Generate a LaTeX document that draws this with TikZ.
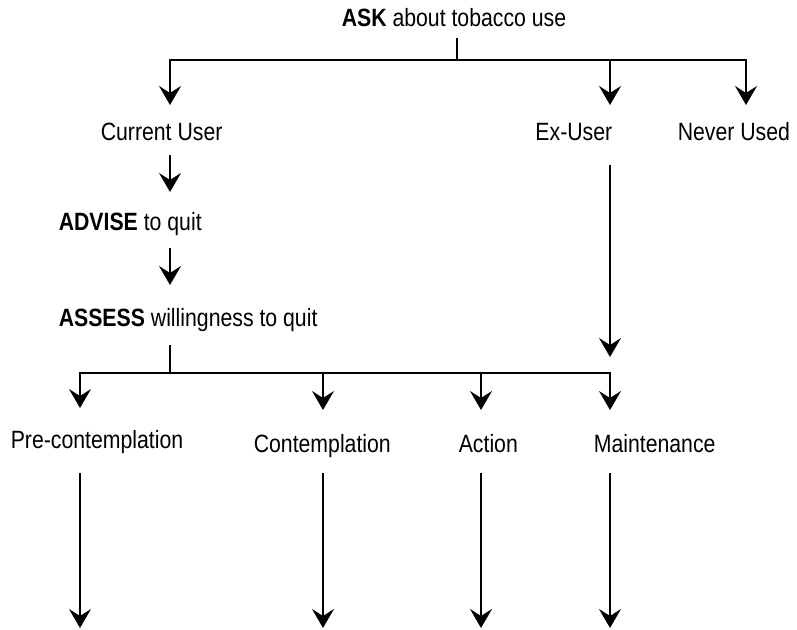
\documentclass[tikz,border=0pt]{standalone}
\usepackage{fontspec}
\setmainfont{Liberation Sans}[FakeStretch=0.85]
\usetikzlibrary{arrows.meta}

\begin{document}
\begin{tikzpicture}[x=1pt,y=-1pt,line width=1.6pt,
    lbl/.style={inner sep=0pt,font=\fontsize{25}{30}\selectfont},
    arr/.style={-{Stealth[length=19pt,width=22pt,inset=7pt]}}]
    \useasboundingbox (0,0) rectangle (797,629);
    % texts
    \node[lbl,anchor=base east] (ask) at (567,27) {\textbf{ASK} about tobacco use};
    \node[lbl,anchor=base west] (cur) at (100,140) {Current User};
    \node[lbl,anchor=base east] (ex) at (613,140) {Ex-User};
    \node[lbl,anchor=base west] (never) at (677,140) {Never Used};
    \node[lbl,anchor=base west] (advise) at (58,230) {\textbf{ADVISE} to quit};
    \node[lbl,anchor=base west] (assess) at (58,326) {\textbf{ASSESS} willingness to quit};
    \node[lbl,anchor=base west] (pre) at (10,448) {Pre-contemplation};
    \node[lbl,anchor=base west] (cont) at (253,452) {Contemplation};
    \node[lbl,anchor=base west] (act) at (458,452) {Action};
    \node[lbl,anchor=base west] (maint) at (593,452) {Maintenance};
    % junctions and ends
    \coordinate (askout) at (457,38);
    \coordinate (askfork) at (457,60);
    \coordinate (curin) at (170,105);
    \coordinate (exin) at (610,105);
    \coordinate (neverin) at (746,105);
    \coordinate (curout) at (170,155);
    \coordinate (advisein) at (170,192);
    \coordinate (adviseout) at (170,248);
    \coordinate (assessin) at (170,285);
    \coordinate (assessout) at (170,345);
    \coordinate (assessfork) at (170,373);
    \coordinate (exout) at (610,165);
    \coordinate (exend) at (610,357);
    \coordinate (prein) at (80,408);
    \coordinate (contin) at (323,410);
    \coordinate (actin) at (481,410);
    \coordinate (maintin) at (610,410);
    \coordinate (preout) at (80,473);
    \coordinate (preend) at (80,628);
    \coordinate (contout) at (323,473);
    \coordinate (contend) at (323,628);
    \coordinate (actout) at (481,473);
    \coordinate (actend) at (481,628);
    \coordinate (maintout) at (610,473);
    \coordinate (maintend) at (610,628);
    % arrows
    \draw (askout) -- (askfork);
    \draw[arr] (askfork) -| (curin);
    \draw[arr] (askfork) -| (exin);
    \draw[arr] (askfork) -| (neverin);
    \draw[arr] (curout) -- (advisein);
    \draw[arr] (adviseout) -- (assessin);
    \draw[arr] (exout) -- (exend);
    \draw (assessout) -- (assessfork);
    \draw[arr] (assessfork) -| (prein);
    \draw[arr] (assessfork) -| (contin);
    \draw[arr] (assessfork) -| (actin);
    \draw[arr] (assessfork) -| (maintin);
    \draw[arr] (preout) -- (preend);
    \draw[arr] (contout) -- (contend);
    \draw[arr] (actout) -- (actend);
    \draw[arr] (maintout) -- (maintend);
  \end{tikzpicture}
\end{document}
